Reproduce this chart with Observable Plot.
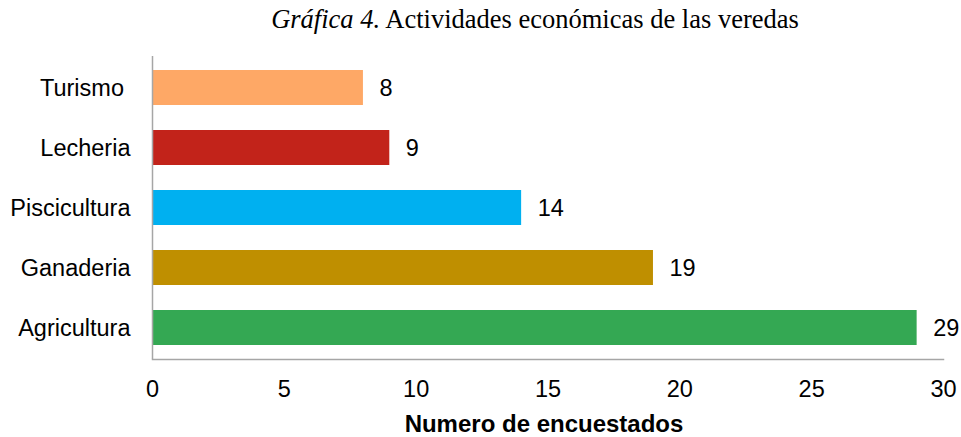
<!DOCTYPE html>
<html>
<head>
<meta charset="utf-8">
<script src="https://cdn.jsdelivr.net/npm/d3@7"></script>
<script src="https://cdn.jsdelivr.net/npm/@observablehq/plot@0.6"></script>
<style>
  html, body { margin: 0; padding: 0; background: #fff; }
  #wrap { position: relative; width: 961px; height: 437px; }
  #title { position: absolute; top: 4px; left: 0; width: 1070px; text-align: center;
           font-family: "Liberation Serif", "Times New Roman", serif; font-size: 26.5px; color: #000; white-space: nowrap; }
  #chart { position: absolute; top: 0; left: 0; }
</style>
</head>
<body>
<div id="wrap">
  <div id="chart"></div>
  <div id="title"><i>Gráfica 4.</i> Actividades económicas de las veredas</div>
</div>
<script>
const categories = ["Turismo\u00a0", "Lecheria", "Piscicultura", "Ganaderia", "Agricultura"];
const values = [8, 9, 14, 19, 29];
const colors = ["#FEA866", "#C2231A", "#00B0F0", "#BF8F00", "#34A853"];
const xTicks = [0, 5, 10, 15, 20, 25, 30];
const xLabel = "Numero de encuestados";

const data = categories.map((c, i) => ({cat: c, value: values[i], color: colors[i]}));

const chart = Plot.plot({
  width: 961,
  height: 437,
  marginLeft: 152,
  marginRight: 18,
  marginTop: 56,
  marginBottom: 78,
  style: {fontFamily: "'Liberation Sans', Arial, sans-serif", fontSize: "23.5px", color: "#000", background: "transparent"},
  x: {domain: [0, 30]},
  y: {domain: categories, paddingInner: 0.42, paddingOuter: 0.21},
  marks: [
    Plot.barX(data, {y: "cat", x: "value", fill: "color"}),
    Plot.text(data, {y: "cat", x: "value", text: d => String(d.value), textAnchor: "start", dx: 16, fill: "#000", fontSize: 23.5}),
    Plot.ruleX([0], {stroke: "#A6A6A6", strokeWidth: 1.5}),
    Plot.frame({anchor: "bottom", stroke: "#A6A6A6", strokeWidth: 1.5}),
    Plot.axisY({tickSize: 0, tickPadding: 22, label: null, fontSize: 23.5}),
    Plot.axisX({ticks: xTicks, tickSize: 0, tickPadding: 21, fontSize: 23.5, label: null}),
    Plot.text([xLabel], {frameAnchor: "bottom", lineAnchor: "top", dy: 55, dx: -4, fontWeight: "bold", fontSize: 24, fill: "#000"})
  ]
});
document.getElementById("chart").appendChild(chart);
</script>
</body>
</html>
